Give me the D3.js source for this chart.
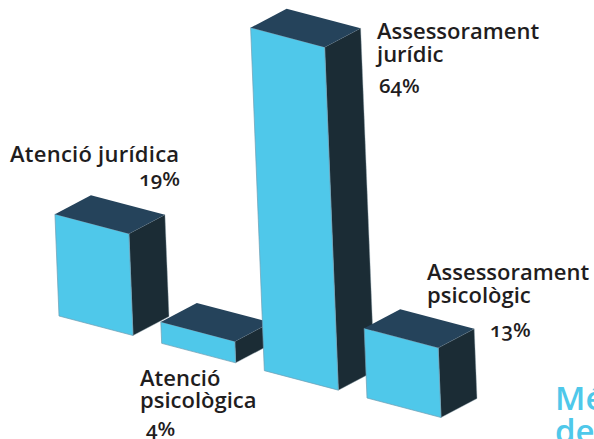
<!DOCTYPE html>
<html><head><meta charset="utf-8">
<script src="https://cdn.jsdelivr.net/npm/d3@7/dist/d3.min.js"></script>
<style>html,body{margin:0;padding:0;background:#fff;overflow:hidden}
svg{display:block}
text{font-family:"Open Sans","Noto Sans",sans-serif;font-weight:600;fill:#1f1d1e;font-variant-numeric:oldstyle-nums}
</style></head><body><svg id="c" width="594" height="439"></svg>
<script>
const categories = ["Atenció jurídica","Atenció psicològica","Assessorament jurídic","Assessorament psicològic"];
const values = [19,4,64,13];
const valueLabels = ["19%","4%","64%","13%"];
const labelLines = [["Atenció jurídica"],["Atenció","psicològica"],["Assessorament","jurídic"],["Assessorament","psicològic"]];
const labelX = [10,140,377,427];
const labelY = [162,386,39,280];
const lineGap = [0,22,23,23];
const pctX = [180,146,379,490];
const pctY = [186,436,93,337];
const pctAnchor = ["end","start","start","start"];
const cutOffTitle = ["Mé","de"];

const colors = {front:"#4fc8ea", top:"#25435b", side:"#1b2c35", edge:"#6f9db3"};
const svg = d3.select("#c");
const height = d3.scaleLinear().domain([0,64]).range([0,343]);
const baseX = d3.scaleLinear().domain([0,3]).range([59,367]);
const baseY = d3.scaleLinear().domain([0,3]).range([316,398]);
const W = [74,19.5], D = [36,-19], LEAN = -0.04;
const poly = pts => pts.map(p=>p.join(",")).join(" ");

const g = svg.selectAll("g.bar").data(values).join("g").attr("class","bar");
g.each(function(v,i){
  const s = d3.select(this), h = height(v), x = baseX(i), y = baseY(i);
  const a=[x,y], b=[x+W[0],y+W[1]], up=p=>[p[0]+LEAN*h,p[1]-h], back=p=>[p[0]+D[0],p[1]+D[1]];
  const at=up(a), bt=up(b);
  s.append("polygon").attr("points",poly([b,bt,back(bt),back(b)])).attr("fill",colors.side)
    .attr("stroke","#8fa3ad").attr("stroke-width",0.4);
  s.append("polygon").attr("points",poly([a,b,bt,at])).attr("fill",colors.front)
    .attr("stroke",colors.edge).attr("stroke-width",0.7);
  s.append("polygon").attr("points",poly([at,bt,back(bt),back(at)])).attr("fill",colors.top);
});

labelLines.forEach((lines,i)=>{
  lines.forEach((t,j)=>svg.append("text").attr("x",labelX[i]).attr("y",labelY[i]+j*lineGap[i])
    .attr("font-size",22).style("letter-spacing", i===0 ? "0.25px" : null).text(t));
  svg.append("text").attr("x",pctX[i]).attr("y",pctY[i]).attr("text-anchor",pctAnchor[i])
    .attr("font-size",20.5).text(valueLabels[i]);
});
cutOffTitle.forEach((t,j)=>svg.append("text").attr("x",555).attr("y",410+j*33)
  .attr("font-size",33).style("fill","#4fc8ea").text(t));
</script></body></html>
